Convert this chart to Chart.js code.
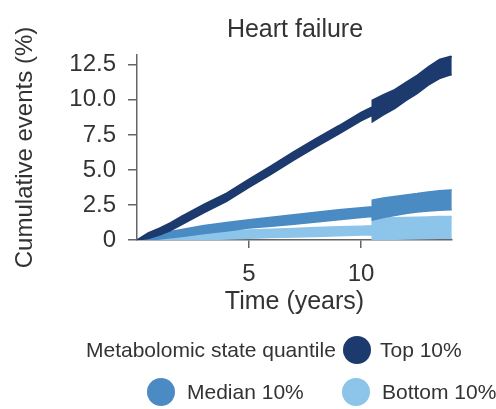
<!DOCTYPE html>
<html>
<head>
<meta charset="utf-8">
<script src="https://cdn.jsdelivr.net/npm/chart.js@4"></script>
<style>
  html, body { margin: 0; padding: 0; background: #fff; }
  body { width: 496px; height: 409px; position: relative; overflow: hidden;
         font-family: "Liberation Sans", Arial, Helvetica, sans-serif; color: #333; }
  #wrap { position: absolute; left: 0; top: 0; width: 496px; height: 409px; }
  .lg { position: absolute; font-size: 21px; line-height: 24px; white-space: nowrap; color: #333; }
  .dot { position: absolute; width: 28px; height: 28px; border-radius: 50%; }
  #title { position: absolute; top: 13px; left: 195px; width: 200px; text-align: center;
           font-size: 25px; line-height: 30px; color: #333; white-space: nowrap; }
</style>
</head>
<body>
<div id="wrap"><canvas id="c" width="496" height="409"></canvas></div>
<div id="title">Heart failure</div>
<div class="lg" style="left:86px; top:338px;">Metabolomic state quantile</div>
<div class="dot" id="d0" style="left:343px; top:336px;"></div>
<div class="lg" style="left:380px; top:338px;">Top 10%</div>
<div class="dot" id="d1" style="left:147px; top:378px;"></div>
<div class="lg" style="left:187px; top:380px;">Median 10%</div>
<div class="dot" id="d2" style="left:342px; top:378px;"></div>
<div class="lg" style="left:382px; top:380px;">Bottom 10%</div>
<script>
// ---- data ----
const seriesNames = ['Top 10%', 'Median 10%', 'Bottom 10%'];
const seriesColors = ['#1c3a6e', '#4a8bc4', '#8cc4ea'];
const times   = [0, 0.5, 1, 1.5, 2, 3, 4, 5, 6, 7, 8, 9, 10, 10.5, 10.5, 11, 11.5, 12, 12.5, 13, 13.5, 14, 14.05];
const topLow  = [0, 0.1, 0.35, 0.67, 1.1, 1.95, 2.75, 3.75, 4.7, 5.7, 6.65, 7.55, 8.5, 8.9, 8.42, 8.93, 9.37, 9.95, 10.45, 11.05, 11.52, 11.78, 11.8];
const topHigh = [0, 0.5, 0.85, 1.23, 1.7, 2.55, 3.35, 4.35, 5.3, 6.3, 7.25, 8.15, 9.1, 9.5, 9.98, 10.37, 10.73, 11.25, 11.75, 12.35, 12.88, 13.1, 13.05];
const medLow  = [0, 0.01, 0.07, 0.16, 0.25, 0.47, 0.65, 0.85, 0.98, 1.13, 1.28, 1.45, 1.6, 1.67, 1.43, 1.6, 1.74, 1.89, 1.99, 2.07, 2.12, 2.15, 2.15];
const medHigh = [0, 0.25, 0.43, 0.6, 0.75, 1.03, 1.25, 1.45, 1.62, 1.81, 1.98, 2.15, 2.3, 2.37, 2.85, 3.0, 3.1, 3.21, 3.31, 3.43, 3.52, 3.57, 3.57];
const botLow  = [0, 0, 0, 0, 0.02, 0.02, 0.07, 0.12, 0.17, 0.22, 0.25, 0.3, 0.35, 0.37, 0.01, 0.03, 0.05, 0.07, 0.09, 0.11, 0.13, 0.13, 0.13];
const botHigh = [0, 0.12, 0.2, 0.28, 0.38, 0.52, 0.63, 0.72, 0.77, 0.82, 0.89, 0.94, 0.99, 1.01, 1.55, 1.57, 1.59, 1.61, 1.63, 1.65, 1.67, 1.67, 1.67];
const xTickValues = [5, 10];
const yTickValues = [0, 2.5, 5, 7.5, 10, 12.5];
const yTickLabels = ['0', '2.5', '5.0', '7.5', '10.0', '12.5'];

const pts = arr => arr.map((v, i) => ({ x: times[i], y: v }));
const bands = [[topHigh, topLow], [medHigh, medLow], [botHigh, botLow]];
const datasets = [];
bands.forEach((b, k) => {
  const col = seriesColors[k];
  datasets.push({ label: seriesNames[k] + ' upper', data: pts(b[0]), borderColor: col, borderWidth: 1.5,
                  pointRadius: 0, fill: false, tension: 0 });
  datasets.push({ label: seriesNames[k] + ' lower', data: pts(b[1]), borderColor: col, borderWidth: 1.5,
                  backgroundColor: col, pointRadius: 0, fill: '-1', tension: 0 });
});
['d0','d1','d2'].forEach((id, k) => document.getElementById(id).style.background = seriesColors[k]);

const axisCol = '#666';
const font = 'Liberation Sans, Arial, Helvetica, sans-serif';
new Chart(document.getElementById('c'), {
  type: 'line',
  data: { datasets },
  options: {
    responsive: false,
    animation: false,
    layout: { padding: { left: 0, right: 44, top: 55, bottom: 89 } },
    plugins: {
      legend: { display: false },
      tooltip: { enabled: false },
      title: { display: false }
    },
    scales: {
      x: {
        type: 'linear', min: 0, max: 14.06,
        afterBuildTicks: s => { s.ticks = xTickValues.map(v => ({ value: v })); },
        afterFit: s => { s.height = 80; },
        ticks: { color: '#333', font: { family: font, size: 24 }, padding: 12, maxRotation: 0,
                 callback: v => String(v) },
        grid: { drawOnChartArea: false, drawTicks: true, tickLength: 8, color: axisCol, tickColor: axisCol, lineWidth: 1.5 },
        border: { color: axisCol, width: 1.5 },
        title: { display: true, text: 'Time (years)', color: '#333',
                 font: { family: font, size: 25 }, padding: { top: 0, bottom: 3 } }
      },
      y: {
        type: 'linear', min: 0, max: 13.2,
        afterBuildTicks: s => { s.ticks = yTickValues.map(v => ({ value: v })); },
        afterFit: s => { s.width = 137; },
        ticks: { color: '#333', font: { family: font, size: 24 }, padding: 12,
                 callback: (v) => yTickLabels[yTickValues.indexOf(v)] },
        grid: { drawOnChartArea: false, drawTicks: true, tickLength: 9, color: axisCol, tickColor: axisCol, lineWidth: 1.5 },
        border: { color: axisCol, width: 1.5 },
        title: { display: true, text: 'Cumulative events (%)', color: '#333',
                 font: { family: font, size: 24 }, padding: { top: 11, bottom: 0 } }
      }
    }
  }
});
</script>
</body>
</html>
